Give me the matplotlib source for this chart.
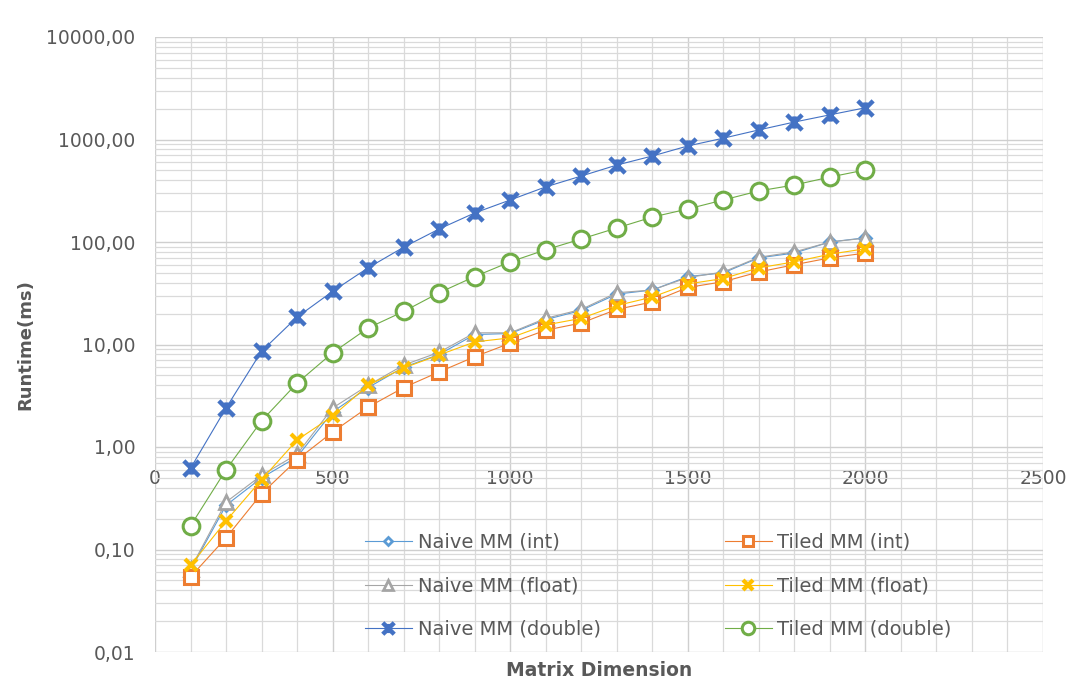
import matplotlib
matplotlib.use("Agg")
import matplotlib.pyplot as plt
from matplotlib.path import Path
from matplotlib.ticker import FixedLocator, MultipleLocator, LogLocator, NullFormatter

plt.rcParams['font.family'] = ['DejaVu Sans']

# ---------------- data ----------------
matrix_dim = [100, 200, 300, 400, 500, 600, 700, 800, 900, 1000,
              1100, 1200, 1300, 1400, 1500, 1600, 1700, 1800, 1900, 2000]

naive_int = [0.063, 0.27, 0.50, 0.80, 2.2, 3.8, 6.0, 8.0, 12.5, 12.8,
             17.5, 21.5, 31, 34, 46, 50, 70, 78, 100, 110]
naive_float = [0.065, 0.29, 0.53, 0.85, 2.4, 4.0, 6.3, 8.4, 13, 13,
               18, 22, 32, 34, 45, 51, 71, 80, 100, 109]
naive_double = [0.62, 2.4, 8.6, 18.5, 33, 56, 89, 134, 192, 257,
                345, 440, 563, 690, 865, 1030, 1240, 1480, 1740, 2040]
tiled_int = [0.054, 0.13, 0.35, 0.75, 1.4, 2.45, 3.8, 5.4, 7.6, 10.3,
             13.8, 16.2, 22, 26, 36, 41, 51, 60, 70, 78]
tiled_float = [0.07, 0.19, 0.48, 1.17, 2.0, 4.0, 5.9, 7.9, 10.6, 11.6,
               15.5, 18, 24, 29, 39, 44, 56, 64, 76, 86]
tiled_double = [0.17, 0.60, 1.8, 4.2, 8.3, 14.5, 21, 32, 46, 64,
                84, 107, 137, 175, 210, 257, 315, 360, 430, 505]

series_labels = ["Naive MM (int)", "Naive MM (float)", "Naive MM (double)",
                 "Tiled MM (int)", "Tiled MM (float)", "Tiled MM (double)"]

y_ticks = [0.01, 0.1, 1, 10, 100, 1000, 10000]
y_tick_labels = ["0,01", "0,10", "1,00", "10,00", "100,00", "1000,00", "10000,00"]
x_ticks = [0, 500, 1000, 1500, 2000, 2500]
x_tick_labels = ["0", "500", "1000", "1500", "2000", "2500"]

x_label = "Matrix Dimension"
y_label = "Runtime(ms)"

# ---------------- figure ----------------
W, H = 1074, 681
fig = plt.figure(figsize=(W / 100, H / 100), dpi=100)
L, R, T, B = 155, 1043, 37, 652
ax = fig.add_axes([L / W, 1 - B / H, (R - L) / W, (B - T) / H])

ax.set_yscale('log')
ax.set_ylim(0.01, 10000)
ax.set_xlim(0, 2500)

# Excel-like "star" marker: an X with a short vertical bar
star = Path([(-1, -1), (1, 1), (-1, 1), (1, -1), (0, -0.8), (0, 0.8)],
            [Path.MOVETO, Path.LINETO, Path.MOVETO, Path.LINETO, Path.MOVETO, Path.LINETO])

styles = [
    dict(color='#5B9BD5', marker='D', ms=6, mfc='white', mec='#5B9BD5', mew=2.0),
    dict(color='#A5A5A5', marker='^', ms=10, mfc='white', mec='#A5A5A5', mew=2.0),
    dict(color='#4472C4', marker=star, ms=11, mfc='#4472C4', mec='#4472C4', mew=3.2),
    dict(color='#ED7D31', marker='s', ms=10, mfc='white', mec='#ED7D31', mew=2.2),
    dict(color='#FFC000', marker='x', ms=9, mfc='#FFC000', mec='#FFC000', mew=3.0),
    dict(color='#70AD47', marker='o', ms=12, mfc='white', mec='#70AD47', mew=2.2),
]
all_series = [naive_int, naive_float, naive_double, tiled_int, tiled_float, tiled_double]
zorders = [3, 3.5, 5, 4, 4.5, 5]
handles = []
for vals, st, lab, z in zip(all_series, styles, series_labels, zorders):
    h, = ax.plot(matrix_dim, vals, lw=0.8, label=lab, zorder=z, **st)
    handles.append(h)

# ticks & grid
ax.yaxis.set_major_locator(FixedLocator(y_ticks))
ax.set_yticklabels(y_tick_labels)
ax.yaxis.set_minor_locator(LogLocator(base=10, subs=range(2, 10), numticks=20))
ax.yaxis.set_minor_formatter(NullFormatter())
ax.xaxis.set_major_locator(FixedLocator(x_ticks))
ax.set_xticklabels(x_tick_labels)
ax.xaxis.set_minor_locator(MultipleLocator(100))

ax.grid(True, which='major', color='#CFCFCF', lw=1.0, zorder=0)
ax.grid(True, which='minor', color='#DADADA', lw=0.9, zorder=0)
ax.set_axisbelow(True)

for s in ax.spines.values():
    s.set_visible(False)
ax.spines['bottom'].set_position(('data', 1))

ax.tick_params(axis='both', which='both', length=0, labelcolor='#595959', labelsize=13.5)
ax.tick_params(axis='x', pad=16)
ax.tick_params(axis='y', pad=14)

fig.text(25 / W, 1 - 345 / H, y_label, rotation=90, ha='center', va='center',
         fontsize=13, fontweight='bold', color='#595959')
fig.text((L + R) / 2 / W, 1 - 670 / H, x_label, ha='center', va='center',
         fontsize=13.5, fontweight='bold', color='#595959')

leg = ax.legend(handles, series_labels,
                ncol=2, loc='upper left',
                bbox_to_anchor=((365 - L) / (R - L), 1 - (533 - T) / (B - T)),
                frameon=False, fontsize=14, borderpad=0, borderaxespad=0,
                handlelength=2.4, handletextpad=0.3, labelspacing=1.25,
                columnspacing=6.4, labelcolor='#595959', markerscale=0.75)

fig.savefig("out.png", dpi=100)
